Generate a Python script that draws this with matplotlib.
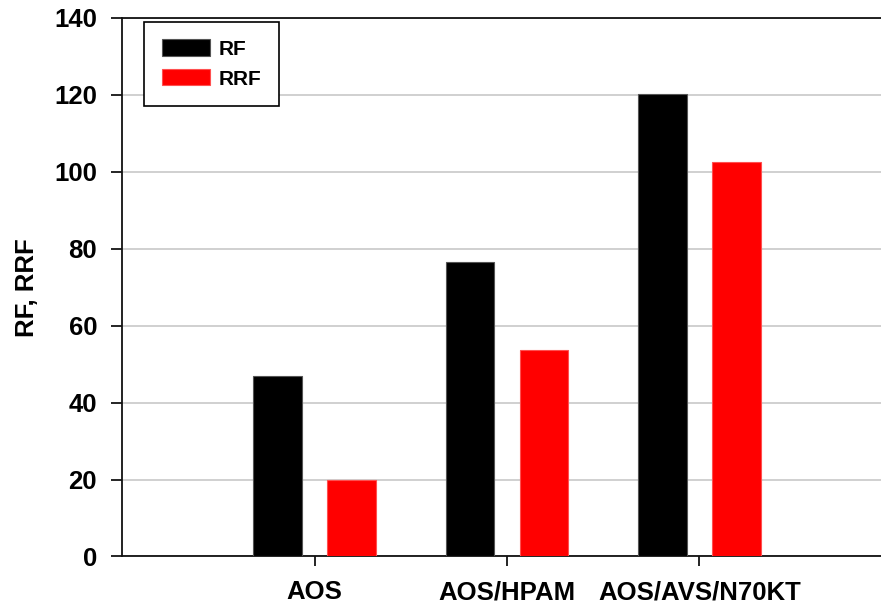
import numpy as np
import matplotlib.pyplot as plt

plt.rcParams['font.family'] = ['Liberation Sans', 'DejaVu Sans']
plt.rcParams['font.weight'] = 'bold'

# Data
categories = ['AOS', 'AOS/HPAM', 'AOS/AVS/N70KT']
rf = [46.8, 76.5, 120.3]
rrf = [19.9, 53.6, 102.5]

fig = plt.figure(figsize=(8.81, 6.06), dpi=100)
ax = fig.add_axes([0.1385, 0.0817, 0.8615, 0.8886])

x = np.arange(1, len(categories) + 1)
w = 0.25
off = 0.192

ax.bar(x - off, rf, width=w, color='black', edgecolor='#555555', linewidth=0.8,
       label='RF', zorder=3)
ax.bar(x + off, rrf, width=w, color='#ff0000', edgecolor='#ff5050', linewidth=0.8,
       label='RRF', zorder=3)

ax.set_xlim(0, 3.943)
ax.set_ylim(0, 140)
ax.set_yticks(np.arange(0, 141, 20))
ax.set_xticks(x)
ax.set_xticklabels(categories)

# Grid
ax.yaxis.grid(True, color='#c8c8c8', linewidth=1.2, zorder=0)
ax.set_axisbelow(True)

ax.spines['right'].set_visible(False)
for s in ['left', 'bottom', 'top']:
    ax.spines[s].set_linewidth(1.3)
    ax.spines[s].set_color('#111111')

ax.tick_params(axis='y', direction='out', length=8, width=1.2, pad=10, labelsize=18.5)
ax.tick_params(axis='x', direction='out', length=7, width=1.2, pad=10, labelsize=18.5)
for lbl in ax.get_xticklabels() + ax.get_yticklabels():
    lbl.set_fontweight('bold')

ax.set_ylabel('RF, RRF', fontsize=18.5, fontweight='bold', labelpad=11)

leg = ax.legend(loc='upper left', bbox_to_anchor=(0.029, 0.993),
                prop={'family': 'Liberation Sans', 'weight': 'bold', 'size': 15},
                frameon=True, fancybox=False, edgecolor='black', framealpha=1,
                handlelength=2.3, handleheight=0.82, borderpad=0.85,
                labelspacing=0.5, handletextpad=0.45, borderaxespad=0)
leg.get_frame().set_linewidth(1.2)

fig.savefig('out.png', dpi=100)
